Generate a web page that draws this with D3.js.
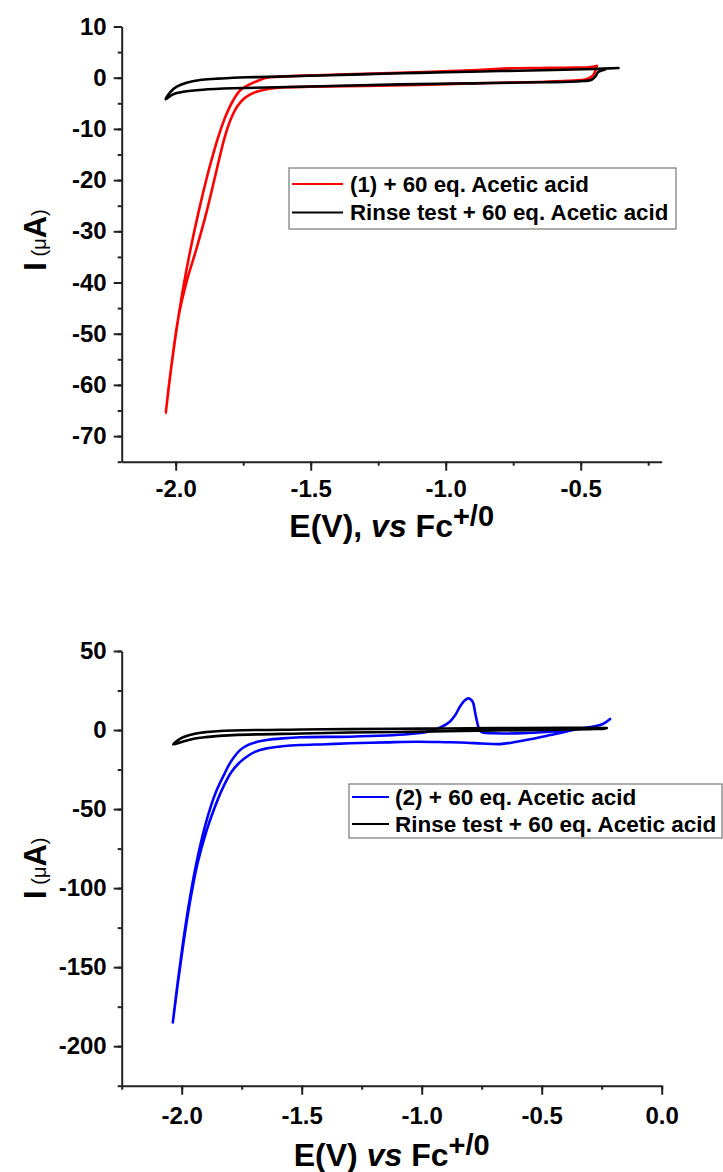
<!DOCTYPE html>
<html><head><meta charset="utf-8">
<script src="https://cdn.jsdelivr.net/npm/d3@7"></script>
<style>
body{margin:0;background:#fff}
text{font-family:"Liberation Sans",Arial,sans-serif}
</style>
</head><body>
<svg id="c" width="723" height="1172"></svg>
<script>
// ---------- DATA ----------
// Panel 1 ticks
const p1XTicks = [-2.0, -1.5, -1.0, -0.5];
const p1XMinor = [-2.0, -1.75, -1.5, -1.25, -1.0, -0.75, -0.5, -0.25];
const p1YTicks = [10, 0, -10, -20, -30, -40, -50, -60, -70];
const p1YMinor = [10, 5, 0, -5, -10, -15, -20, -25, -30, -35, -40, -45, -50, -55, -60, -65, -70, -75];
// Panel 2 ticks
const p2XTicks = [-2.0, -1.5, -1.0, -0.5, 0.0];
const p2XMinor = [-2.25, -2.0, -1.75, -1.5, -1.25, -1.0, -0.75, -0.5, -0.25, 0.0];
const p2YTicks = [50, 0, -50, -100, -150, -200];
const p2YMinor = [50, 25, 0, -25, -50, -75, -100, -125, -150, -175, -200, -225];

// Legend labels
const p1Labels = ["(1) + 60 eq. Acetic acid", "Rinse test + 60 eq. Acetic acid"];
const p2Labels = ["(2) + 60 eq. Acetic acid", "Rinse test + 60 eq. Acetic acid"];

// Panel 1 series: [E (V), I (µA)]
const p1Red = [[-0.44,2.3],[-0.47,2.05],[-0.55,1.95],[-0.65,1.9],[-0.75,1.85],[-0.85,1.6],[-0.95,1.35],[-1.05,1.15],[-1.2,0.9],[-1.4,0.6],[-1.55,0.35],[-1.62,0.18],[-1.663,0],[-1.688,-0.45],[-1.722,-1.2],[-1.76,-2.4],[-1.788,-4.5],[-1.811,-7],[-1.8293,-9.5],[-1.846,-12.2],[-1.8653,-15.7],[-1.8837,-19.3],[-1.9165,-26.5],[-1.9459,-33.7],[-1.9687,-40],[-1.9897,-46.7],[-2.0125,-55],[-2.037,-65.5],[-2.0128,-55],[-1.9896,-46.7],[-1.9604,-40],[-1.9248,-33.7],[-1.887,-26.5],[-1.8541,-19.3],[-1.8381,-15.7],[-1.8215,-12.2],[-1.8059,-9.5],[-1.7867,-7],[-1.7704,-5.5],[-1.7496,-4.2],[-1.7252,-3.3],[-1.6922,-2.6],[-1.6522,-2.15],[-1.62,-1.95],[-1.58,-1.85],[-1.5,-1.75],[-1.3,-1.6],[-1.1,-1.4],[-0.9,-1.1],[-0.7,-0.9],[-0.55,-0.6],[-0.48,-0.3],[-0.455,0.4],[-0.445,1.5],[-0.44,2.3]];
const p1Black = [[-0.36,1.9],[-0.45,1.7],[-0.6,1.5],[-0.8,1.3],[-1.0,1.05],[-1.17,0.86],[-1.35,0.6],[-1.54,0.33],[-1.7,0.12],[-1.788,0],[-1.85,-0.2],[-1.91,-0.45],[-1.96,-1.0],[-1.996,-1.76],[-2.02,-2.8],[-2.037,-4.2],[-2.015,-3.4],[-1.996,-3.0],[-1.972,-2.73],[-1.9,-2.35],[-1.787,-2.07],[-1.54,-1.76],[-1.17,-1.3],[-0.9,-1.1],[-0.65,-0.9],[-0.5,-0.7],[-0.46,-0.4],[-0.445,0.3],[-0.435,1.1],[-0.41,1.6]];

// Panel 2 series
const p2Blue = [[-0.215,7.0],[-0.243,4.0],[-0.285,2.2],[-0.326,1.1],[-0.4,-1.0],[-0.465,-3.2],[-0.53,-5.4],[-0.604,-7.4],[-0.674,-8.9],[-0.75,-8.5],[-0.813,-8.0],[-0.9,-7.7],[-1.021,-7.4],[-1.15,-7.8],[-1.299,-8.4],[-1.4,-9.0],[-1.507,-9.5],[-1.58,-10.3],[-1.646,-11.6],[-1.695,-13.8],[-1.729,-16.9],[-1.762,-21],[-1.795,-27],[-1.833,-38],[-1.865,-50],[-1.897,-64],[-1.935,-85],[-1.967,-110],[-1.993,-135],[-2.016,-160],[-2.037,-185],[-2.017,-160],[-1.995,-135],[-1.97,-110],[-1.94,-85],[-1.905,-62],[-1.878,-48],[-1.854,-38],[-1.823,-28],[-1.795,-20],[-1.757,-12.7],[-1.725,-9.5],[-1.68,-7.3],[-1.646,-6.3],[-1.58,-5.3],[-1.507,-4.6],[-1.3,-4.2],[-1.15,-3.5],[-1.05,-2.5],[-0.98,-1.2],[-0.952,0],[-0.92,1.8],[-0.883,5.3],[-0.86,9.5],[-0.841,14.7],[-0.82,18.8],[-0.806,20.0],[-0.793,19],[-0.785,16.9],[-0.778,11.5],[-0.771,6.3],[-0.763,1.5],[-0.757,-0.6],[-0.743,-1.7],[-0.70,-2.0],[-0.604,-2.1],[-0.465,-1.1],[-0.326,1.1],[-0.27,2.6]];
const p2Black = [[-0.229,1.3],[-0.4,1.4],[-0.7,1.2],[-1.0,0.9],[-1.3,0.6],[-1.5,0.3],[-1.786,-0.3],[-1.9,-1.3],[-1.95,-2.5],[-2.0,-5],[-2.035,-9.1],[-2.0,-7.5],[-1.95,-5.5],[-1.9,-4.5],[-1.786,-3.2],[-1.5,-2.2],[-1.3,-1.6],[-1.0,-1.0],[-0.7,-0.3],[-0.5,0.1],[-0.3,0.6],[-0.24,0.9],[-0.229,1.3]];

// ---------- DRAW ----------
const svg = d3.select("#c");
const fmtInt = v => d3.format("d")(v).replace("\u2212","-");
const fmt1 = v => d3.format(".1f")(v).replace("\u2212","-");

function panel(cfg){
  const g = svg.append("g");
  const x = d3.scaleLinear().domain(cfg.xDom).range([cfg.left, cfg.right]);
  const y = d3.scaleLinear().domain(cfg.yDom).range([cfg.bottom, cfg.top]);

  // minor ticks
  g.append("g").attr("transform",`translate(0,${cfg.bottom})`)
    .call(d3.axisBottom(x).tickValues(cfg.xMinor).tickSize(4).tickFormat(""))
    .call(s=>s.select(".domain").remove());
  g.append("g").attr("transform",`translate(${cfg.left},0)`)
    .call(d3.axisLeft(y).tickValues(cfg.yMinor).tickSize(4).tickFormat(""))
    .call(s=>s.select(".domain").remove());

  const ax = g.append("g").attr("transform",`translate(0,${cfg.bottom})`)
    .call(d3.axisBottom(x).tickValues(cfg.xTicks).tickSize(9).tickPadding(cfg.xPad).tickFormat(fmt1).tickSizeOuter(0));
  const ay = g.append("g").attr("transform",`translate(${cfg.left},0)`)
    .call(d3.axisLeft(y).tickValues(cfg.yTicks).tickSize(8).tickPadding(7).tickFormat(fmtInt).tickSizeOuter(0));
  [ax, ay].forEach(a=>{
    a.selectAll("text").attr("font-size",24).attr("font-weight","bold").attr("fill","#000")
      .attr("font-family",'"Liberation Sans",Arial,sans-serif');
    a.select(".domain").attr("stroke","#222").attr("stroke-width",2);
  });
  g.selectAll(".tick line").attr("stroke","#222").attr("stroke-width",2);

  // curves
  const line = d3.line().x(d=>x(d[0])).y(d=>y(d[1])).curve(d3.curveCatmullRom.alpha(0.5));
  cfg.series.forEach(s=>{
    g.append("path").datum(s.data).attr("d",line).attr("fill","none")
      .attr("stroke",s.color).attr("stroke-width",2.6).attr("stroke-linejoin","round").attr("stroke-linecap","round");
  });

  // x title
  const xt = g.append("text").attr("x",(cfg.left+cfg.right)/2).attr("y",cfg.xTitleY)
    .attr("text-anchor","middle").attr("font-size",32).attr("font-weight","bold");
  xt.append("tspan").text(cfg.xTitleA);
  xt.append("tspan").attr("font-style","italic").text("vs");
  xt.append("tspan").text(" Fc");
  xt.append("tspan").attr("dy",-11).attr("font-size",29).text("+/0");

  // y title
  const cy = (cfg.top+cfg.bottom)/2 + cfg.yTitleShift;
  const yt = g.append("text").attr("transform",`translate(46,${cy}) rotate(-90)`)
    .attr("text-anchor","middle");
  yt.append("tspan").attr("font-size",32).attr("font-weight","bold").text("I");
  yt.append("tspan").attr("font-size",20).text(" (\u03bc");
  yt.append("tspan").attr("font-size",31).attr("font-weight","bold").text("A");
  yt.append("tspan").attr("font-size",20).text(")");

  // legend
  const L = cfg.legend;
  g.append("rect").attr("x",L.x).attr("y",L.y).attr("width",L.w).attr("height",L.h)
    .attr("fill","#fff").attr("stroke","#777").attr("stroke-width",1.2);
  cfg.series.forEach((s,i)=>{
    const ly = L.y + L.row0 + i*L.rowH;
    g.append("line").attr("x1",L.x+3).attr("x2",L.x+L.lineLen).attr("y1",ly).attr("y2",ly)
      .attr("stroke",s.color).attr("stroke-width",2);
    g.append("text").attr("x",L.x+L.textX).attr("y",ly+7.5).attr("font-size",L.fs)
      .attr("font-weight","bold").text(s.label);
  });
}

panel({
  xDom:[-2.2,-0.2], yDom:[-75,10], left:121.7, right:661.7, top:26.5, bottom:461.7,
  xTicks:p1XTicks, xMinor:p1XMinor, yTicks:p1YTicks, yMinor:p1YMinor, xPad:9,
  xTitleA:"E(V), ", xTitleY:537, yTitleShift:-4,
  series:[{data:p1Red,color:"#ff0000",label:p1Labels[0]},{data:p1Black,color:"#000",label:p1Labels[1]}],
  legend:{x:289,y:168,w:387,h:61,row0:16,rowH:28.4,lineLen:54,textX:61,fs:22.3}
});
panel({
  xDom:[-2.25,0], yDom:[-225,50], left:121.7, right:661.7, top:651, bottom:1085.7,
  xTicks:p2XTicks, xMinor:p2XMinor, yTicks:p2YTicks, yMinor:p2YMinor, xPad:12,
  xTitleA:"E(V) ", xTitleY:1166, yTitleShift:0,
  series:[{data:p2Blue,color:"#0000ff",label:p2Labels[0]},{data:p2Black,color:"#000",label:p2Labels[1]}],
  legend:{x:349,y:784,w:373,h:54,row0:13,rowH:27,lineLen:40,textX:46,fs:22.5}
});
</script>
</body></html>
